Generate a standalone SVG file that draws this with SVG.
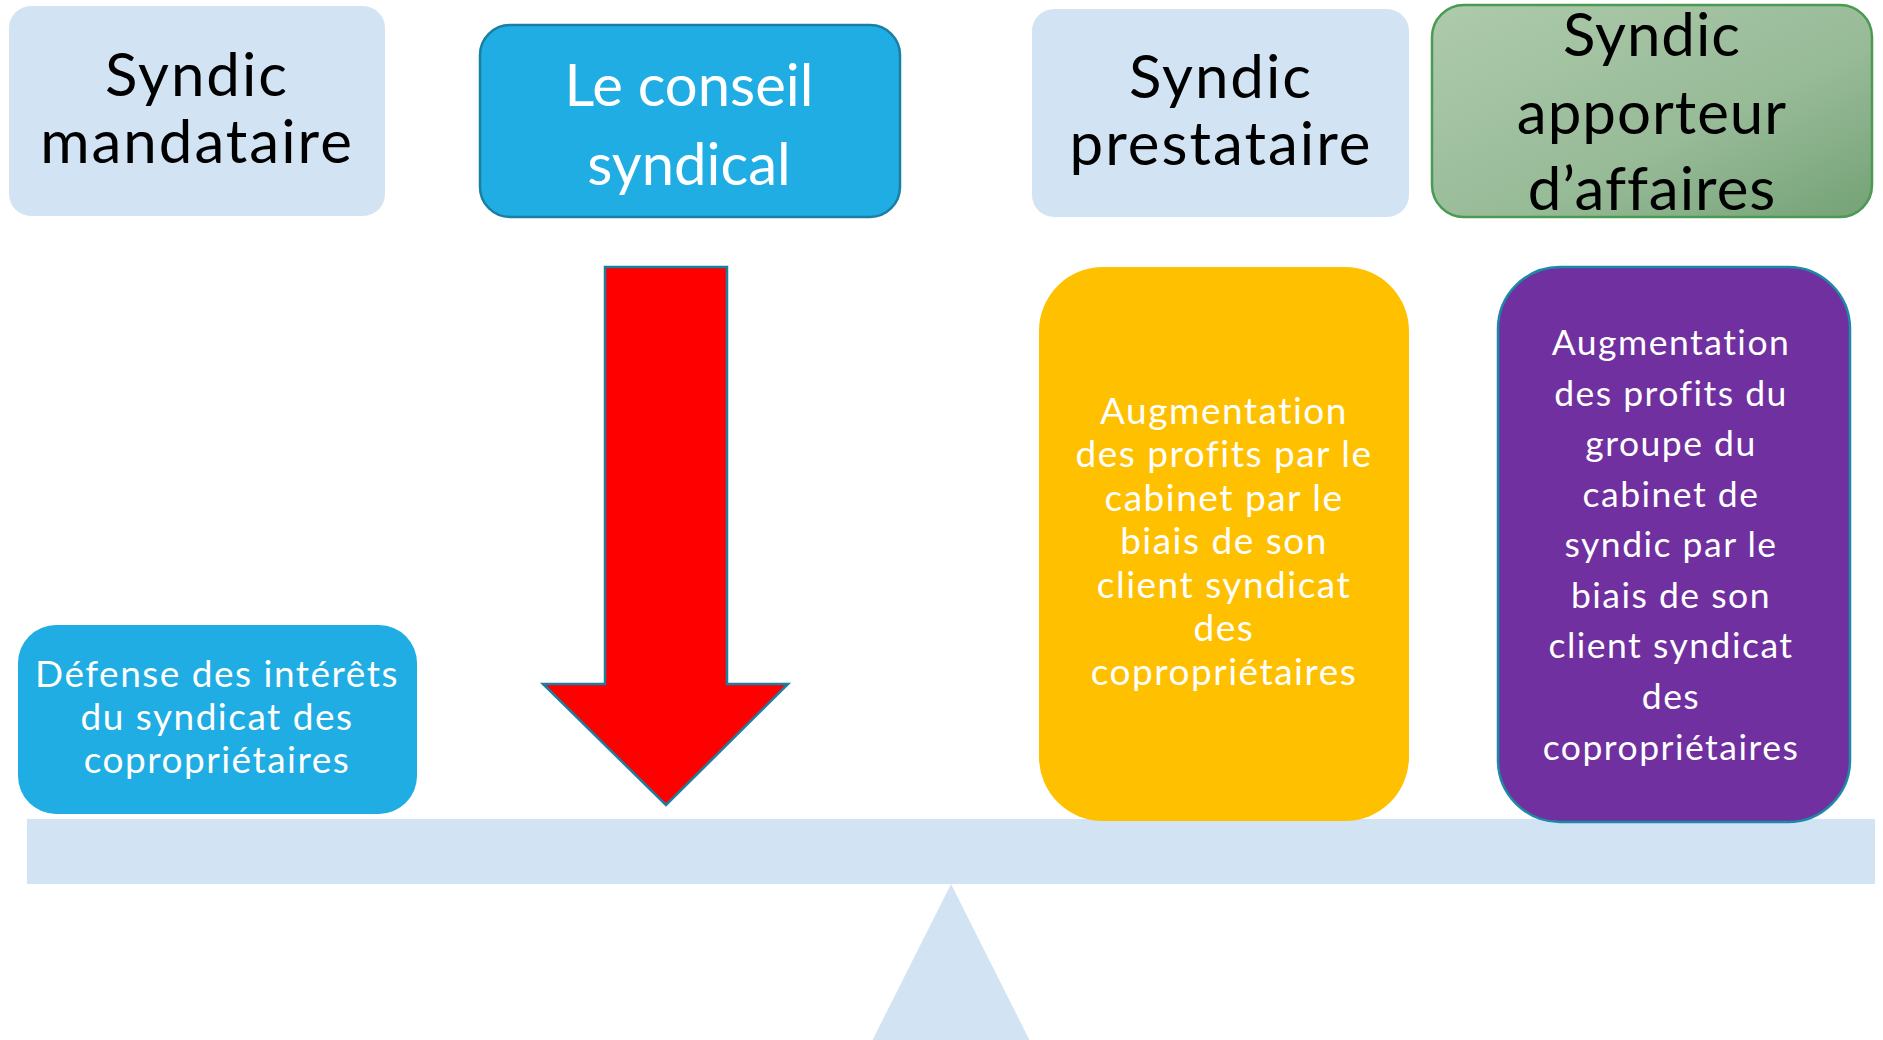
<svg xmlns="http://www.w3.org/2000/svg" width="1883" height="1040" viewBox="0 0 1883 1040">
<style>
.t{font-family:Lato,"Open Sans","Liberation Sans",sans-serif;text-anchor:middle}
.big{font-size:60px;letter-spacing:2px}
.dark{fill:#000}
.white{fill:#fff}
.mid{font-size:37px;letter-spacing:1.5px}
.pur{font-size:35.5px;letter-spacing:1.5px}
.light{fill:#D2E4F4}
</style>
<defs>
<linearGradient id="green" x1="0" y1="0" x2="1" y2="1">
<stop offset="0" stop-color="#AECBAB"/>
<stop offset="0.6" stop-color="#97BA97"/>
<stop offset="1" stop-color="#74A276"/>
</linearGradient>
</defs>
<rect width="1883" height="1040" fill="#fff"/>
<g id="fulcrum">
<polygon class="light" points="951,884 870,1045 1032,1045"/>
</g>
<g id="beam">
<rect class="light" x="27" y="819" width="1848" height="65"/>
</g>
<g id="syndic-mandataire">
<rect class="light" x="9" y="6" width="376" height="210" rx="22"/>
<text class="t big dark" x="197" y="96">Syndic</text>
<text class="t big dark" x="197" y="163">mandataire</text>
</g>
<g id="conseil-syndical">
<rect x="480" y="25" width="420" height="192" rx="30" fill="#1FADE3" stroke="#1B7FA3" stroke-width="2.5"/>
<text class="t white" style="font-size:58px" x="689" y="106">Le conseil</text>
<text class="t white" style="font-size:58px" x="689" y="185">syndical</text>
</g>
<g id="syndic-prestataire">
<rect class="light" x="1032" y="9" width="377" height="208" rx="22"/>
<text class="t big dark" x="1221" y="98">Syndic</text>
<text class="t big dark" x="1221" y="165">prestataire</text>
</g>
<g id="syndic-apporteur">
<rect x="1432" y="5" width="440" height="212" rx="32" fill="url(#green)" stroke="#4B9A52" stroke-width="2.5"/>
<text class="t dark" style="font-size:60px;letter-spacing:1px" x="1652" y="56">Syndic</text>
<text class="t dark" style="font-size:60px;letter-spacing:1px" x="1652" y="134">apporteur</text>
<text class="t dark" style="font-size:60px;letter-spacing:1px" x="1652" y="210">d’affaires</text>
</g>
<g id="defense">
<rect x="18" y="625" width="399" height="189" rx="38" fill="#1FADE3"/>
<text class="t mid white" x="217" y="687">Défense des intérêts</text>
<text class="t mid white" x="217" y="730">du syndicat des</text>
<text class="t mid white" x="217" y="773">copropriétaires</text>
</g>
<g id="prestataire-profits">
<rect x="1039" y="267" width="370" height="554" rx="64" fill="#FFC000"/>
<text class="t mid white" x="1224" y="424">Augmentation</text>
<text class="t mid white" x="1224" y="467">des profits par le</text>
<text class="t mid white" x="1224" y="511">cabinet par le</text>
<text class="t mid white" x="1224" y="554">biais de son</text>
<text class="t mid white" x="1224" y="598">client syndicat</text>
<text class="t mid white" x="1224" y="641">des</text>
<text class="t mid white" x="1224" y="685">copropriétaires</text>
</g>
<g id="apporteur-profits">
<rect x="1498" y="267" width="352" height="555" rx="62" fill="#7030A0" stroke="#1E88A8" stroke-width="2.5"/>
<text class="t pur white" x="1671" y="355">Augmentation</text>
<text class="t pur white" x="1671" y="406">des profits du</text>
<text class="t pur white" x="1671" y="456">groupe du</text>
<text class="t pur white" x="1671" y="507">cabinet de</text>
<text class="t pur white" x="1671" y="557">syndic par le</text>
<text class="t pur white" x="1671" y="608">biais de son</text>
<text class="t pur white" x="1671" y="658">client syndicat</text>
<text class="t pur white" x="1671" y="709">des</text>
<text class="t pur white" x="1671" y="760">copropriétaires</text>
</g>
<g id="connectors">
<polygon points="605,267 727,267 727,684 788,684 666,805 543,684 605,684" fill="#FF0000" stroke="#1A7FA0" stroke-width="2.5" stroke-linejoin="miter"/>
</g>
</svg>
